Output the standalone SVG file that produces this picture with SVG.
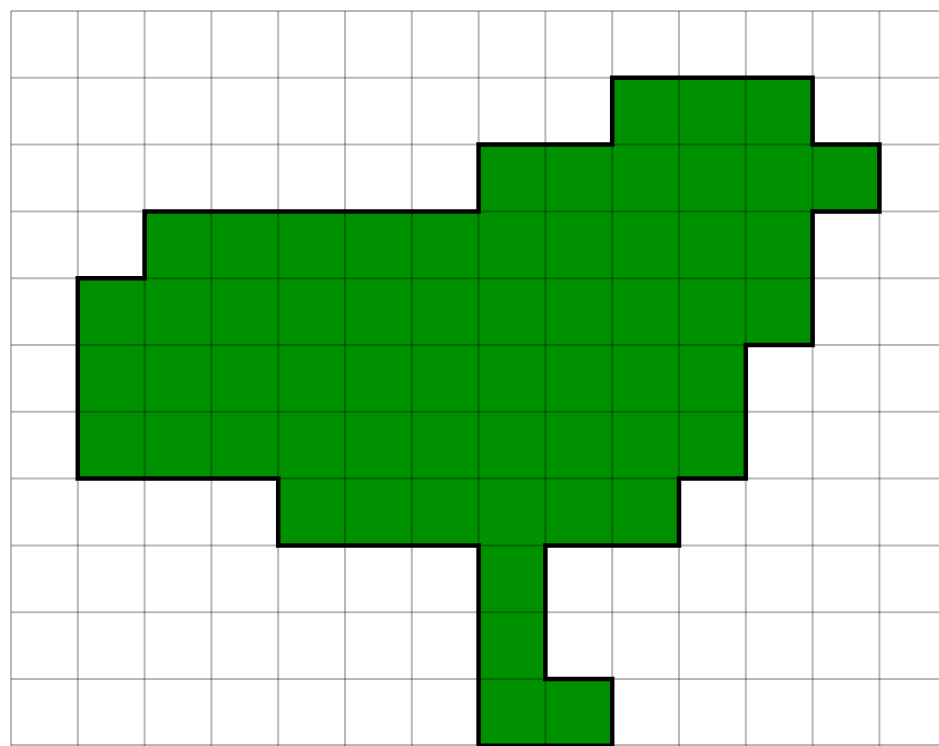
<svg xmlns="http://www.w3.org/2000/svg" width="939" height="746" viewBox="0 0 939 746">
<style>
.grid{stroke:#000;stroke-opacity:0.28;stroke-width:2;fill:none}
.shape{fill:#009100}
.outline{fill:none;stroke:#000;stroke-width:4.5;stroke-linejoin:miter}
</style>
<rect width="939" height="746" fill="#fff"/>
<g id="shape-fill">
<polygon class="shape" points="612.2,77.8 812.6,77.8 812.6,144.6 879.4,144.6 879.4,211.4 812.6,211.4 812.6,345 745.8,345 745.8,478.6 679,478.6 679,545.4 545.4,545.4 545.4,679 612.2,679 612.2,745.8 478.6,745.8 478.6,545.4 278.2,545.4 278.2,478.6 77.8,478.6 77.8,278.2 144.6,278.2 144.6,211.4 478.6,211.4 478.6,144.6 612.2,144.6"/>
</g>
<g id="grid">
<path class="grid" d="M11,11V746M77.8,11V746M144.6,11V746M211.4,11V746M278.2,11V746M345,11V746M411.8,11V746M478.6,11V746M545.4,11V746M612.2,11V746M679,11V746M745.8,11V746M812.6,11V746M879.4,11V746"/>
<path class="grid" d="M11,11H939M11,77.8H939M11,144.6H939M11,211.4H939M11,278.2H939M11,345H939M11,411.8H939M11,478.6H939M11,545.4H939M11,612.2H939M11,679H939M11,745H939"/>
</g>
<g id="shape-outline">
<polygon class="outline" points="612.2,77.8 812.6,77.8 812.6,144.6 879.4,144.6 879.4,211.4 812.6,211.4 812.6,345 745.8,345 745.8,478.6 679,478.6 679,545.4 545.4,545.4 545.4,679 612.2,679 612.2,745.8 478.6,745.8 478.6,545.4 278.2,545.4 278.2,478.6 77.8,478.6 77.8,278.2 144.6,278.2 144.6,211.4 478.6,211.4 478.6,144.6 612.2,144.6"/>
</g>
</svg>
